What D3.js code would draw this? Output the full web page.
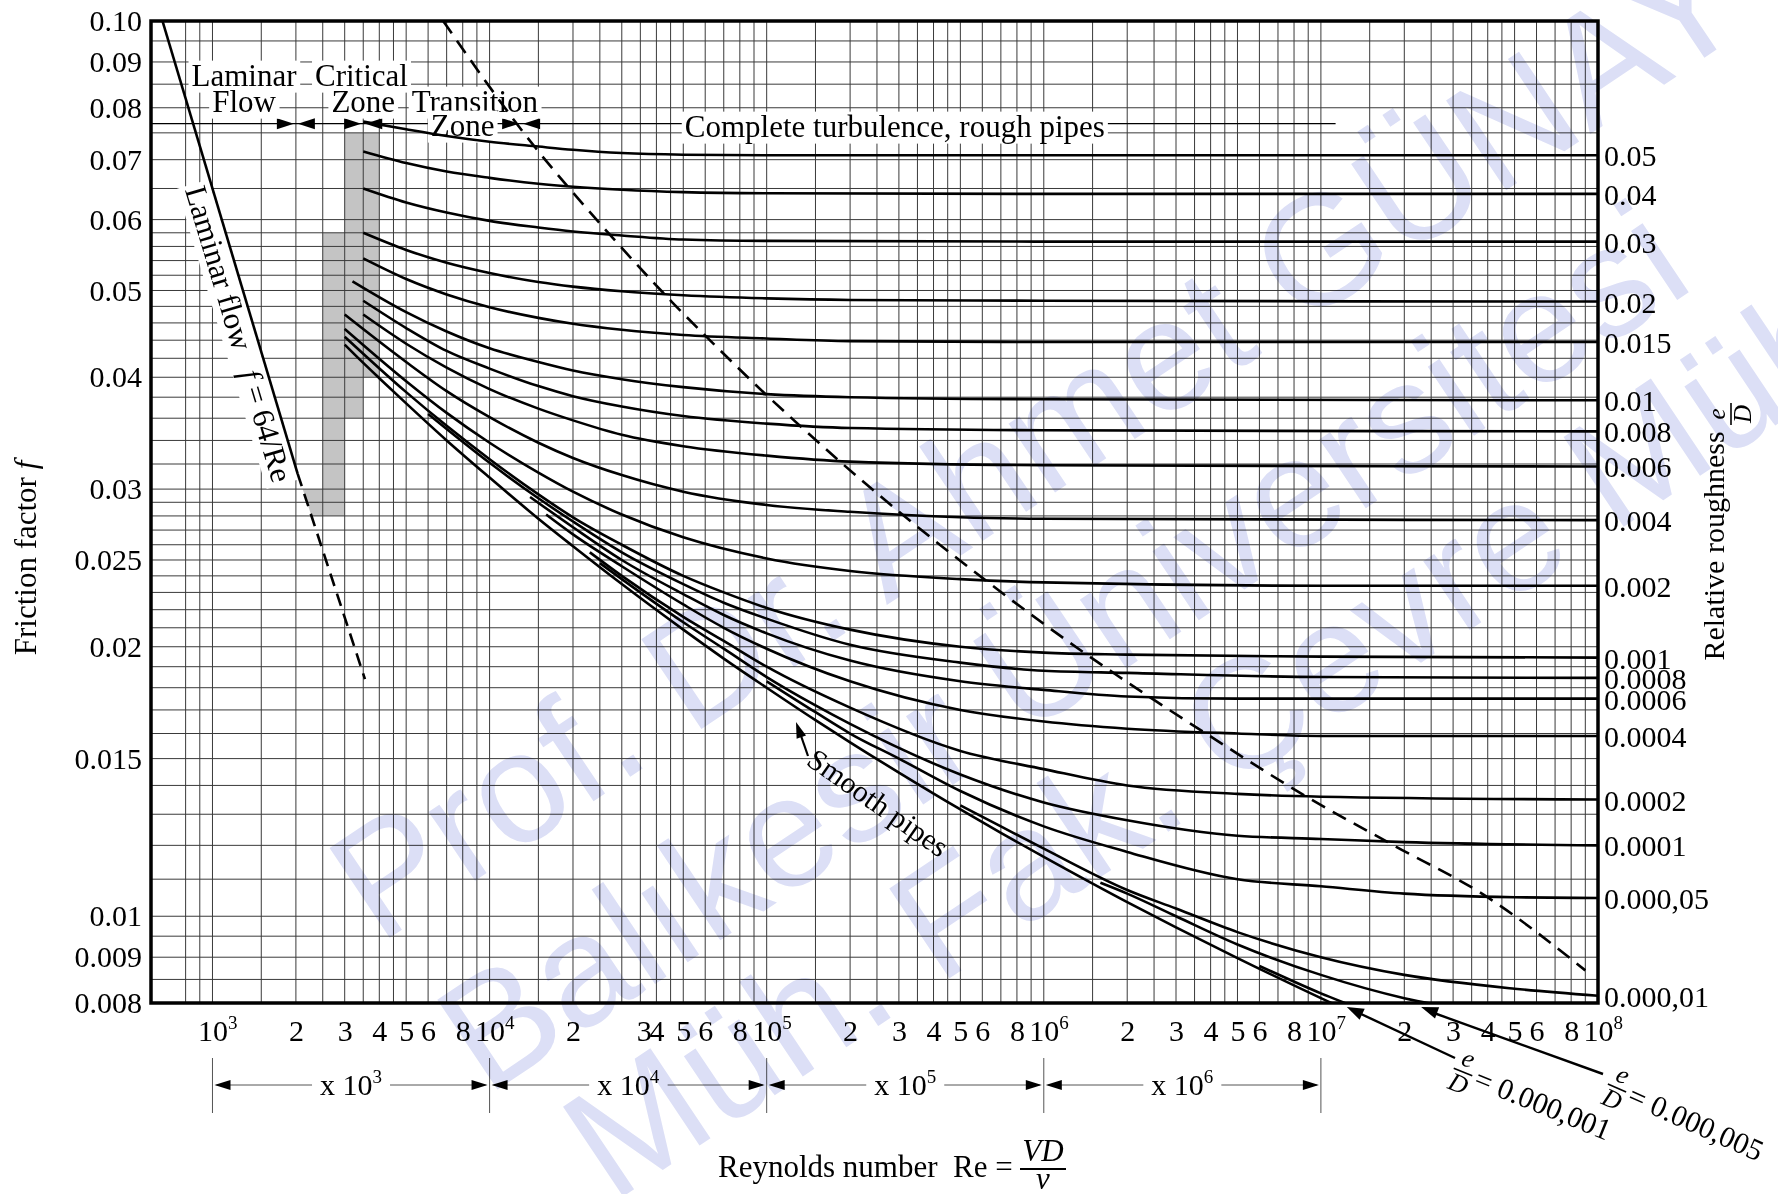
<!DOCTYPE html>
<html>
<head>
<meta charset="utf-8">
<script src="https://cdn.jsdelivr.net/npm/d3@7/dist/d3.min.js"></script>
<style>
  body { margin: 0; background: #fff; }
  svg text { font-family: "Liberation Serif", "Times New Roman", serif; fill: #000; }
</style>
</head>
<body>
<svg id="chart" width="1778" height="1194"></svg>
<script>
// values: one row per relative roughness e/D
const roughLabels = ["0.05", "0.04", "0.03", "0.02", "0.015", "0.01", "0.008", "0.006", "0.004", "0.002",
  "0.001", "0.0008", "0.0006", "0.0004", "0.0002", "0.0001", "0.000,05", "0.000,01", "0.000,005", "0.000,001", "smooth"];

const curveRe = [
  [3500, 5000, 7000, 1e4, 1.5e4, 2e4, 3e4, 5e4, 1e5, 1e6, 1e8],
  [3500, 5000, 7000, 1e4, 1.5e4, 2e4, 3e4, 5e4, 1e5, 1e6, 1e8],
  [3500, 5000, 7000, 1e4, 1.5e4, 2e4, 3e4, 5e4, 1e5, 1e6, 1e8],
  [3500, 5000, 7000, 1e4, 1.5e4, 2e4, 3e4, 5e4, 1e5, 2e5, 1e6, 1e8],
  [3500, 5000, 7000, 1e4, 1.5e4, 2e4, 3e4, 5e4, 1e5, 2e5, 1e6, 1e8],
  [3200, 5000, 7000, 1e4, 1.5e4, 2e4, 3e4, 5e4, 1e5, 2e5, 1e6, 1e8],
  [3500, 5000, 7000, 1e4, 1.5e4, 2e4, 3e4, 5e4, 1e5, 2e5, 1e6, 1e8],
  [3500, 5000, 7000, 1e4, 1.5e4, 2e4, 3e4, 5e4, 1e5, 2e5, 1e6, 1e8],
  [3000, 5000, 7000, 1e4, 1.5e4, 2e4, 3e4, 5e4, 1e5, 2e5, 5e5, 1e6, 1e8],
  [3000, 5000, 7000, 1e4, 1.5e4, 2e4, 3e4, 5e4, 1e5, 2e5, 5e5, 1e6, 1e7, 1e8],
  [3000, 5000, 7000, 1e4, 1.5e4, 2e4, 3e4, 5e4, 7e4, 1e5, 2e5, 5e5, 1e6, 2e6, 1e7, 1e8],
  [6000, 1e4, 1.5e4, 2e4, 3e4, 5e4, 7e4, 1e5, 2e5, 5e5, 1e6, 2e6, 1e7, 1e8],
  [1.4e4, 2e4, 3e4, 5e4, 7e4, 1e5, 2e5, 5e5, 1e6, 2e6, 5e6, 1e7, 1e8],
  [1.6e4, 2e4, 3e4, 5e4, 7e4, 1e5, 2e5, 5e5, 1e6, 2e6, 5e6, 1e7, 1e8],
  [2.3e4, 3e4, 5e4, 7e4, 1e5, 2e5, 5e5, 1e6, 2e6, 5e6, 1e7, 1e8],
  [2.5e4, 3e4, 5e4, 7e4, 1e5, 1.5e5, 2e5, 5e5, 1e6, 2e6, 5e6, 1e7, 2e7, 1e8],
  [1e5, 1.5e5, 2e5, 3e5, 5e5, 1e6, 2e6, 5e6, 1e7, 2e7, 5e7, 1e8],
  [5e5, 7e5, 1e6, 2e6, 3e6, 5e6, 1e7, 2e7, 5e7, 1e8],
  [1.6e6, 2e6, 3e6, 5e6, 1e7, 2e7, 3e7],
  [6e6, 1e7, 1.5e7, 2e7],
  [3000, 3500, 4000, 5000, 7000, 1e4, 1.5e4, 2e4, 3e4, 5e4, 7e4, 1e5, 1.5e5, 2e5, 3e5, 5e5, 7e5, 1e6, 2e6, 3e6, 5e6, 1e7, 2e7]
];

const curveF = [
  [0.0772, 0.0757, 0.0744, 0.0733, 0.0724, 0.0718, 0.0712, 0.0709, 0.0708, 0.0708, 0.0708],
  [0.0715, 0.0694, 0.0679, 0.0668, 0.0658, 0.0653, 0.0648, 0.0644, 0.0642, 0.0641, 0.0641],
  [0.0650, 0.0627, 0.0611, 0.0598, 0.0588, 0.0582, 0.0576, 0.0570, 0.0568, 0.0567, 0.0567],
  [0.0580, 0.0555, 0.0537, 0.0523, 0.0511, 0.0505, 0.0499, 0.0494, 0.0490, 0.0488, 0.0487, 0.0486],
  [0.0543, 0.0515, 0.0495, 0.0479, 0.0466, 0.0459, 0.0452, 0.0446, 0.0442, 0.0439, 0.0438, 0.0438],
  [0.0512, 0.0473, 0.0450, 0.0431, 0.0416, 0.0407, 0.0398, 0.0390, 0.0383, 0.0380, 0.0378, 0.0377],
  [0.0487, 0.0454, 0.0428, 0.0409, 0.0391, 0.0381, 0.0371, 0.0362, 0.0355, 0.0351, 0.0349, 0.0348],
  [0.0470, 0.0436, 0.0410, 0.0388, 0.0369, 0.0358, 0.0345, 0.0335, 0.0327, 0.0322, 0.0319, 0.0318],
  [0.0470, 0.0416, 0.0386, 0.0361, 0.0338, 0.0325, 0.0311, 0.0298, 0.0288, 0.0283, 0.0279, 0.0278, 0.0277],
  [0.0453, 0.0396, 0.0365, 0.0338, 0.0313, 0.0298, 0.0281, 0.0265, 0.0251, 0.0243, 0.0238, 0.0236, 0.0234, 0.0234],
  [0.0444, 0.0385, 0.0353, 0.0324, 0.0296, 0.0279, 0.0260, 0.0240, 0.0230, 0.0221, 0.0209, 0.0200, 0.0197, 0.0196, 0.0195, 0.01945],
  [0.0364, 0.0321, 0.0293, 0.0276, 0.0255, 0.0235, 0.0224, 0.0215, 0.0201, 0.0192, 0.0188, 0.0187, 0.0185, 0.01846],
  [0.0294, 0.0272, 0.0250, 0.0229, 0.0217, 0.0207, 0.0193, 0.0183, 0.0179, 0.0176, 0.0175, 0.0175, 0.0175],
  [0.0281, 0.0267, 0.0246, 0.0223, 0.0210, 0.0199, 0.0183, 0.0170, 0.0165, 0.0162, 0.0160, 0.0159, 0.0159],
  [0.0255, 0.0240, 0.0216, 0.0203, 0.0190, 0.0171, 0.0153, 0.0146, 0.0140, 0.0137, 0.0136, 0.0135],
  [0.0248, 0.0238, 0.0213, 0.0199, 0.0185, 0.0172, 0.0164, 0.0144, 0.0134, 0.0128, 0.0123, 0.0122, 0.0121, 0.0120],
  [0.0183, 0.0169, 0.0160, 0.0150, 0.0138, 0.0126, 0.0118, 0.0110, 0.0108, 0.0106, 0.0105, 0.01048],
  [0.0133, 0.0126, 0.0119, 0.0107, 0.0102, 0.0096, 0.0090, 0.0086, 0.0083, 0.00815],
  [0.0109, 0.0106, 0.0100, 0.0093, 0.0086, 0.0081, 0.0079],
  [0.0088, 0.0082, 0.0078, 0.0075],
  [0.0435, 0.0415, 0.0399, 0.0374, 0.0340, 0.0309, 0.0278, 0.0259, 0.0235, 0.0209, 0.0194, 0.0180, 0.01656,
   0.01564, 0.01447, 0.01316, 0.01239, 0.01165, 0.01037, 0.00972, 0.00898, 0.00810, 0.00734]
];

// dashed boundary of complete turbulence
const boundaryRe = [6800, 14950, 19660, 27880, 45350, 63790, 102700, 133300, 186000, 296600, 653600,
  1.43e6, 1.83e6, 2.53e6, 3.97e6, 8.53e6, 1.83e7, 3.9e7, 9e7];
const boundaryF = [0.100, 0.0716, 0.0647, 0.0572, 0.0486, 0.0437, 0.0379, 0.0352, 0.0321, 0.0284, 0.0234,
  0.0196, 0.0186, 0.0174, 0.0159, 0.0137, 0.0120, 0.01055, 0.0087];

// laminar line f = 64/Re, solid then dashed
const laminarRe = [660, 2030];
const laminarF = [0.100, 0.0312];
const laminarExtRe = [2030, 3550];
const laminarExtF = [0.0312, 0.0184];

// shaded critical zone: [Re from, Re to, f low, f high]
const criticalBands = [[2500, 3000, 0.028, 0.058], [3000, 3500, 0.036, 0.075], [3500, 4000, 0.040, 0.075]];
const criticalTipRe = [2116, 2500, 2500, 2276];
const criticalTipF = [0.030, 0.030, 0.028, 0.028];

// zone arrows along the top
const zoneF = 0.0768;
const zoneRe = [2000, 3500, 13000];
const zoneLineEndRe = 1.13e7;

const gridMult = [1, 1.5, 2, 2.5, 3, 3.5, 4, 4.5, 5, 6, 7, 8, 9];
const gridF = [0.008, 0.0085, 0.009, 0.0095, 0.010, 0.011, 0.012, 0.013, 0.014, 0.015, 0.016, 0.017, 0.018,
  0.019, 0.020, 0.021, 0.022, 0.023, 0.024, 0.025, 0.026, 0.027, 0.028, 0.029, 0.030, 0.032, 0.034, 0.036,
  0.038, 0.040, 0.042, 0.044, 0.046, 0.048, 0.050, 0.052, 0.054, 0.056, 0.058, 0.060, 0.065, 0.070, 0.075,
  0.080, 0.085, 0.090, 0.095, 0.100];

const yTicks = [0.10, 0.09, 0.08, 0.07, 0.06, 0.05, 0.04, 0.03, 0.025, 0.02, 0.015, 0.01, 0.009, 0.008];
const yTickLabels = ["0.10", "0.09", "0.08", "0.07", "0.06", "0.05", "0.04", "0.03", "0.025", "0.02", "0.015", "0.01", "0.009", "0.008"];
// bottom labels (the "3" of the second decade sits next to the "4" on the chart)
const xTickPos = [1e3, 2e3, 3e3, 4e3, 5e3, 6e3, 8e3, 1e4, 2e4, 3.6e4, 4e4, 5e4, 6e4, 8e4, 1e5, 2e5, 3e5, 4e5, 5e5, 6e5, 8e5,
  1e6, 2e6, 3e6, 4e6, 5e6, 6e6, 8e6, 1e7, 2e7, 3e7, 4e7, 5e7, 6e7, 8e7, 1e8];
const xTickText = ["10^3", "2", "3", "4", "5", "6", "8", "10^4", "2", "3", "4", "5", "6", "8", "10^5", "2", "3", "4", "5", "6", "8",
  "10^6", "2", "3", "4", "5", "6", "8", "10^7", "2", "3", "4", "5", "6", "8", "10^8"];
const decades = [1e3, 1e4, 1e5, 1e6, 1e7];

const watermark = ["Prof. Dr. Ahmet GÜNAY", "Balıkesir Üniversitesi", "Müh. Fak. Çevre Müh."];

// ---- drawing ----
const svg = d3.select("#chart");
const X0 = 151, X1 = 1598, Y0 = 21, Y1 = 1003;
const x = d3.scaleLog().domain([600, 1e8]).range([X0, X1]);
const y = d3.scaleLog().domain([0.008, 0.1]).range([Y1, Y0]);
const pt = d => [x(d[0]), y(d[1])];

svg.append("rect").attr("width", 1778).attr("height", 1194).attr("fill", "#fff");
svg.append("defs").append("clipPath").attr("id", "plot")
  .append("rect").attr("x", X0).attr("y", Y0).attr("width", X1 - X0).attr("height", Y1 - Y0);

// critical zone shading
const shade = svg.append("g").attr("fill", "#c4c4c4");
shade.selectAll("rect").data(criticalBands).join("rect")
  .attr("x", d => x(d[0])).attr("width", d => x(d[1]) - x(d[0]))
  .attr("y", d => y(d[3])).attr("height", d => y(d[2]) - y(d[3]));
shade.append("path").attr("d", d3.line()(d3.zip(criticalTipRe, criticalTipF).map(pt)) + "Z");

// grid
const gridRe = [];
[100, 1e3, 1e4, 1e5, 1e6, 1e7].forEach(d => gridMult.forEach(m => {
  const v = d * m;
  if (v >= 800 && v < 1e8) gridRe.push(v);
}));
const grid = svg.append("g").attr("stroke", "#3a3a3a").attr("stroke-width", 1);
grid.selectAll(".v").data(gridRe).join("line").attr("class", "v")
  .attr("x1", d => x(d)).attr("x2", d => x(d)).attr("y1", Y0).attr("y2", Y1);
grid.selectAll(".h").data(gridF).join("line").attr("class", "h")
  .attr("x1", X0).attr("x2", X1).attr("y1", d => y(d)).attr("y2", d => y(d));

// arrow helper
function arrowHead(g, tx, ty, ang, len = 17, half = 5.5) {
  const c = Math.cos(ang), s = Math.sin(ang);
  const bx = tx - c * len, by = ty - s * len;
  g.append("path")
    .attr("d", `M${tx},${ty}L${bx - s * half},${by + c * half}L${bx + s * half},${by - c * half}Z`)
    .attr("fill", "#000");
}

// zone line with arrows
const zy = y(zoneF);
const zones = svg.append("g");
zones.append("line").attr("x1", X0).attr("x2", x(zoneLineEndRe)).attr("y1", zy).attr("y2", zy)
  .attr("stroke", "#000").attr("stroke-width", 1.3);
zoneRe.forEach(r => {
  arrowHead(zones, x(r) - 2, zy, 0);
  arrowHead(zones, x(r) + 2, zy, Math.PI);
});

// labels with white backing
function boxedText(g, str, tx, ty, size = 31) {
  const t = g.append("text").attr("x", tx).attr("y", ty).attr("text-anchor", "middle")
    .attr("font-size", size).text(str);
  const b = t.node().getBBox();
  g.insert("rect", () => t.node()).attr("x", b.x - 3).attr("y", b.y + 3)
    .attr("width", b.width + 6).attr("height", b.height - 3).attr("fill", "#fff");
}
const notes = svg.append("g");
boxedText(notes, "Laminar", x(1300), zy - 38);
boxedText(notes, "Flow", x(1300), zy - 12);
boxedText(notes, "Critical", x(3450), zy - 38);
boxedText(notes, "Zone", x(3500), zy - 12);
boxedText(notes, "Transition", x(8850), zy - 12);
boxedText(notes, "Zone", x(8000), zy + 12);
boxedText(notes, "Complete turbulence, rough pipes", x(2.9e5), zy + 13);

// laminar line label, along the line
const lp0 = pt([laminarRe[0], laminarF[0]]), lp1 = pt([laminarRe[1], laminarF[1]]);
const lamAng = Math.atan2(lp1[1] - lp0[1], lp1[0] - lp0[0]) * 180 / Math.PI;
const lamG = svg.append("g").attr("transform", `translate(${lp0[0]},${lp0[1]}) rotate(${lamAng})`);
const lamT = lamG.append("text").attr("x", 168).attr("y", 27).attr("font-size", 31);
lamT.append("tspan").text("Laminar flow");
lamT.append("tspan").attr("dx", 22).attr("font-style", "italic").text("f");
lamT.append("tspan").text(" = 64/Re");
const lb = lamT.node().getBBox();
lamG.insert("rect", () => lamT.node()).attr("x", lb.x - 3).attr("y", lb.y + 2)
  .attr("width", lb.width + 6).attr("height", lb.height - 2).attr("fill", "#fff");

// curves
const plot = svg.append("g").attr("clip-path", "url(#plot)").attr("fill", "none").attr("stroke", "#000");
const curve = d3.line().x(d => x(d[0])).y(d => y(d[1])).curve(d3.curveMonotoneX);
plot.selectAll(".rough").data(curveRe.map((re, i) => d3.zip(re, curveF[i]))).join("path")
  .attr("class", "rough").attr("d", curve).attr("stroke-width", 2.6);
plot.append("path").attr("d", curve(d3.zip(boundaryRe, boundaryF)))
  .attr("stroke-width", 2.6).attr("stroke-dasharray", "15,9");
const straight = d3.line().x(d => x(d[0])).y(d => y(d[1]));
plot.append("path").attr("d", straight(d3.zip(laminarRe, laminarF))).attr("stroke-width", 2.6);
plot.append("path").attr("d", straight(d3.zip(laminarExtRe, laminarExtF)))
  .attr("stroke-width", 2.6).attr("stroke-dasharray", "13,8");

// frame
svg.append("rect").attr("x", X0).attr("y", Y0).attr("width", X1 - X0).attr("height", Y1 - Y0)
  .attr("fill", "none").attr("stroke", "#000").attr("stroke-width", 3.5);

// left axis
const yAxis = svg.append("g").attr("transform", `translate(${X0},0)`)
  .call(d3.axisLeft(y).tickValues(yTicks).tickFormat((d, i) => yTickLabels[i]).tickSize(0).tickPadding(9));
yAxis.select(".domain").remove();
yAxis.selectAll("text").attr("font-size", 30).attr("font-family", null).attr("fill", "#000");

// bottom axis
const xAxis = svg.append("g").attr("transform", `translate(0,${Y1})`)
  .call(d3.axisBottom(x).tickValues(xTickPos).tickSize(0).tickFormat((d, i) => xTickText[i]));
xAxis.select(".domain").remove();
xAxis.selectAll("text").attr("font-size", 30).attr("font-family", null).attr("fill", "#000")
  .attr("y", 38).attr("dy", null)
  .each(function () {
    const t = d3.select(this), s = t.text();
    if (s.startsWith("10^")) {
      t.text("10").attr("text-anchor", "start").attr("x", -15);
      t.append("tspan").attr("dy", -12).attr("font-size", 19).text(s.slice(3));
    }
  });

// decade brackets
const br = svg.append("g");
const by = 1085;
decades.forEach(d => br.append("line").attr("x1", x(d)).attr("x2", x(d)).attr("y1", 1058).attr("y2", 1113)
  .attr("stroke", "#555").attr("stroke-width", 1));
decades.slice(0, -1).forEach((d, i) => {
  const a = x(d), b = x(decades[i + 1]);
  const t = br.append("text").attr("x", (a + b) / 2).attr("y", by + 10).attr("text-anchor", "middle").attr("font-size", 30);
  t.append("tspan").text("x 10");
  t.append("tspan").attr("dy", -12).attr("font-size", 19).text(Math.round(Math.log10(d)));
  const bb = t.node().getBBox();
  br.append("line").attr("x1", a + 4).attr("x2", bb.x - 8).attr("y1", by).attr("y2", by).attr("stroke", "#555");
  br.append("line").attr("x1", bb.x + bb.width + 8).attr("x2", b - 4).attr("y1", by).attr("y2", by).attr("stroke", "#555");
  arrowHead(br, a + 2, by, Math.PI, 16, 5);
  arrowHead(br, b - 2, by, 0, 16, 5);
});

// axis titles
const xt = svg.append("g");
xt.append("text").attr("x", 718).attr("y", 1177).attr("font-size", 31).text("Reynolds number");
xt.append("text").attr("x", 953).attr("y", 1177).attr("font-size", 31).text("Re =");
xt.append("text").attr("x", 1043).attr("y", 1161).attr("text-anchor", "middle").attr("font-size", 31)
  .attr("font-style", "italic").text("VD");
xt.append("line").attr("x1", 1020).attr("x2", 1066).attr("y1", 1169).attr("y2", 1169).attr("stroke", "#000").attr("stroke-width", 1.8);
xt.append("text").attr("x", 1043).attr("y", 1189).attr("text-anchor", "middle").attr("font-size", 31)
  .attr("font-style", "italic").text("ν");

const ylt = svg.append("text").attr("transform", "translate(36,558) rotate(-90)").attr("text-anchor", "middle").attr("font-size", 31);
ylt.append("tspan").text("Friction factor ");
ylt.append("tspan").attr("font-style", "italic").text("f");

const yrt = svg.append("g").attr("transform", "translate(1724,546) rotate(-90)");
yrt.append("text").attr("text-anchor", "middle").attr("font-size", 30).text("Relative roughness");
yrt.append("text").attr("x", 132).attr("y", 1).attr("text-anchor", "middle").attr("font-size", 25).attr("font-style", "italic").text("e");
yrt.append("line").attr("x1", 121).attr("x2", 143).attr("y1", 7).attr("y2", 7).attr("stroke", "#000").attr("stroke-width", 1.6);
yrt.append("text").attr("x", 132).attr("y", 27).attr("text-anchor", "middle").attr("font-size", 25).attr("font-style", "italic").text("D");

// right roughness labels at the curve ends
const rl = svg.append("g");
roughLabels.slice(0, 18).forEach((lab, i) => {
  const fEnd = curveF[i][curveF[i].length - 1];
  rl.append("text").attr("x", X1 + 6).attr("y", y(fEnd) + 11).attr("font-size", 30).text(lab);
});

// smooth pipes note
const sm = svg.append("g");
sm.append("text").attr("transform", "translate(805,764) rotate(35)").attr("font-size", 30).text("Smooth pipes");
sm.append("line").attr("x1", 808).attr("y1", 756).attr("x2", 799).attr("y2", 730).attr("stroke", "#000").attr("stroke-width", 2.2);
arrowHead(sm, 796, 722, Math.atan2(722 - 756, 796 - 808), 16, 5);

// e/D notes for the two smallest roughness curves
function roughNote(cx, cy, ang, value, tipRe, tail) {
  const g = svg.append("g");
  const tip = [x(tipRe), Y1 + 4];
  g.append("line").attr("x1", tail[0]).attr("y1", tail[1]).attr("x2", tip[0] + 10).attr("y2", tip[1] + 5)
    .attr("stroke", "#000").attr("stroke-width", 2.4);
  arrowHead(g, tip[0], tip[1], Math.atan2(tip[1] - tail[1], tip[0] - tail[0]), 17, 6);
  const n = g.append("g").attr("transform", `translate(${cx},${cy}) rotate(${ang})`);
  n.append("text").attr("y", -6).attr("text-anchor", "middle").attr("font-size", 26).attr("font-style", "italic").text("e");
  n.append("line").attr("x1", -10).attr("x2", 10).attr("stroke", "#000").attr("stroke-width", 1.6);
  n.append("text").attr("y", 21).attr("text-anchor", "middle").attr("font-size", 26).attr("font-style", "italic").text("D");
  n.append("text").attr("x", 14).attr("y", 10).attr("font-size", 30).text("= " + value);
}
roughNote(1463, 1072, 22, roughLabels[19], 1.24e7, [1455, 1058]);
roughNote(1617, 1088, 24, roughLabels[18], 2.3e7, [1603, 1074]);

// watermark
const wm = svg.append("g").attr("transform", "translate(379,945) rotate(-33.8)")
  .style("mix-blend-mode", "multiply");
[[0, 0], [5, 186], [50, 345]].forEach((p, i) => {
  wm.append("text").attr("x", p[0]).attr("y", p[1]).attr("font-size", 157)
    .style("font-family", "'Liberation Sans', Arial, sans-serif").style("fill", "#dcdff6").text(watermark[i]);
});
</script>
</body>
</html>
